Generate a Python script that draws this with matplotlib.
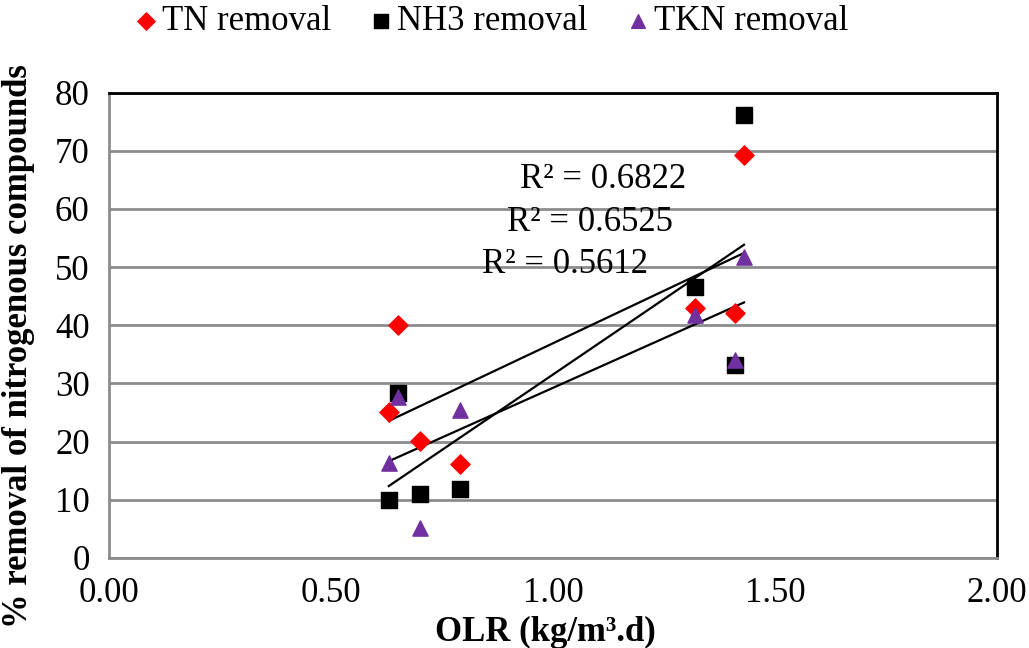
import numpy as np
import matplotlib.pyplot as plt

plt.rcParams['font.family'] = ['Liberation Serif', 'DejaVu Serif']

olr = [0.63, 0.65, 0.70, 0.79, 1.32, 1.41, 1.43]
tn = [25.1, 40.1, 20.1, 16.2, 43.0, 42.2, 69.2]
nh3 = [10.0, 28.4, 11.0, 11.9, 46.5, 33.2, 76.2]
tkn = [16.4, 27.7, 5.2, 25.5, 41.7, 34.1, 51.8]

r2_labels = ['R² = 0.6822', 'R² = 0.6525', 'R² = 0.5612']
r2_pos = [(1.113, 65.1), (1.083, 57.7), (1.027, 50.4)]

fig = plt.figure(figsize=(10.29, 6.48), dpi=100)
ax = fig.add_axes([0.106, 0.139, 0.863, 0.718])

ax.scatter(olr, tn, marker='D', s=95, color='#ff0000', label='TN removal', zorder=3)
ax.scatter(olr, nh3, marker='s', s=120, color='black', label='NH3 removal', zorder=3)
ax.scatter(olr, tkn, marker='^', s=120, color='#7030a0', label='TKN removal', zorder=3)

# linear trendlines
for ys in (tn, nh3, tkn):
    k, b = np.polyfit(olr, ys, 1)
    xs = np.array([min(olr), max(olr)])
    ax.plot(xs, k * xs + b, color='black', lw=1.6, zorder=2)

for txt, (x, y) in zip(r2_labels, r2_pos):
    ax.text(x, y, txt, fontsize=25, ha='center', va='center', zorder=1)

ax.set_xlim(0, 2)
ax.set_ylim(0, 80)
ax.set_xticks([0, 0.5, 1.0, 1.5, 2.0])
ax.set_xticklabels(['0.00', '0.50', '1.00', '1.50', '2.00'])
ax.set_yticks(range(0, 81, 10))
ax.tick_params(labelsize=25, length=0)
ax.tick_params(axis='x', pad=14)
ax.tick_params(axis='y', pad=14)
ax.yaxis.grid(True, color='#8c8c8c', lw=2)
ax.set_axisbelow(True)

ax.spines['top'].set_color('black')
ax.spines['right'].set_color('black')
ax.spines['top'].set_linewidth(2)
ax.spines['right'].set_linewidth(2)
ax.spines['left'].set_color('#8c8c8c')
ax.spines['bottom'].set_color('#8c8c8c')
ax.spines['left'].set_linewidth(2)
ax.spines['bottom'].set_linewidth(2)

ax.set_xlabel('OLR (kg/m³.d)', fontsize=25, fontweight='bold')
ax.set_ylabel('% removal of nitrogenous compounds', fontsize=25, fontweight='bold')
ax.xaxis.set_label_coords(0.491, -0.125)
ax.yaxis.set_label_coords(-0.083, 0.455)

fig.legend(loc='upper center', bbox_to_anchor=(0.478, 1.04), ncol=3, frameon=False,
           fontsize=25, handlelength=0.6, handletextpad=0.15, columnspacing=1.15,
           markerscale=0.9)

fig.savefig('out.png', dpi=100)
